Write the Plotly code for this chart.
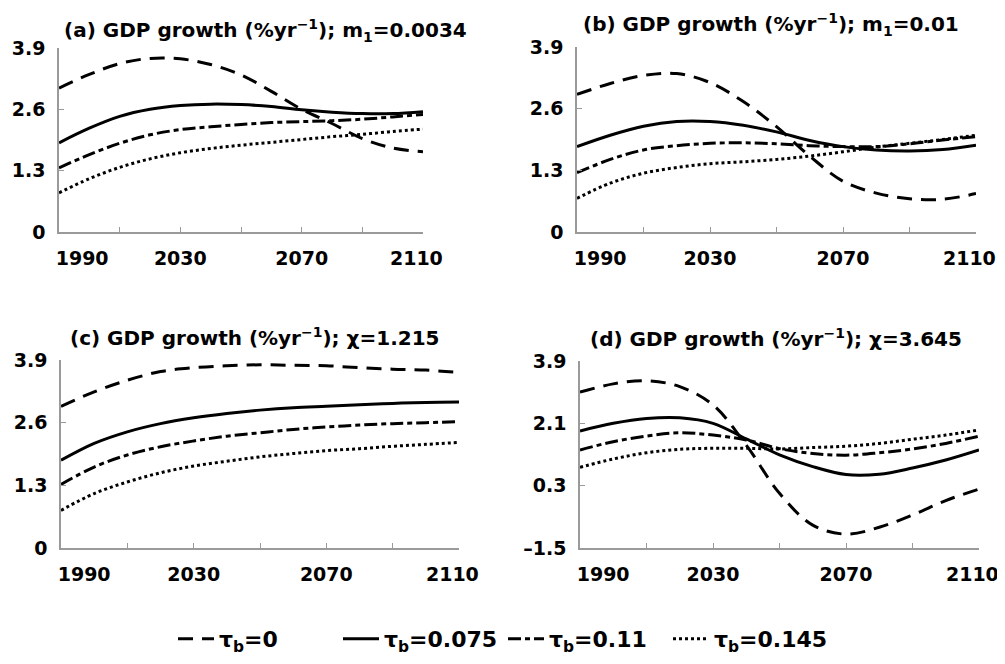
import plotly.graph_objects as go

years = [1990, 2000, 2010, 2020, 2030, 2040, 2050, 2060, 2070, 2080, 2090, 2100, 2110]

series_names = ["τ<sub>b</sub>=0", "τ<sub>b</sub>=0.075", "τ<sub>b</sub>=0.11", "τ<sub>b</sub>=0.145"]

# Panel (a): m1 = 0.0034
a_tau0 = [3.05, 3.34, 3.57, 3.68, 3.67, 3.55, 3.33, 2.98, 2.60, 2.30, 1.98, 1.78, 1.70]
a_tau075 = [1.89, 2.20, 2.45, 2.60, 2.68, 2.71, 2.70, 2.66, 2.59, 2.54, 2.51, 2.51, 2.55]
a_tau11 = [1.36, 1.64, 1.88, 2.06, 2.17, 2.23, 2.28, 2.32, 2.34, 2.36, 2.39, 2.44, 2.49]
a_tau145 = [0.83, 1.13, 1.37, 1.55, 1.68, 1.77, 1.84, 1.90, 1.96, 2.02, 2.07, 2.13, 2.18]

# Panel (b): m1 = 0.01
b_tau0 = [2.90, 3.13, 3.30, 3.34, 3.15, 2.75, 2.22, 1.60, 1.07, 0.82, 0.70, 0.69, 0.81]
b_tau075 = [1.80, 2.04, 2.23, 2.33, 2.33, 2.25, 2.11, 1.93, 1.80, 1.73, 1.71, 1.74, 1.83]
b_tau11 = [1.25, 1.53, 1.73, 1.82, 1.87, 1.88, 1.86, 1.82, 1.80, 1.80, 1.86, 1.94, 2.01]
b_tau145 = [0.71, 1.03, 1.24, 1.36, 1.44, 1.48, 1.53, 1.60, 1.69, 1.79, 1.87, 1.95, 2.04]

# Panel (c): chi = 1.215
c_tau0 = [2.94, 3.24, 3.48, 3.66, 3.74, 3.78, 3.80, 3.79, 3.78, 3.74, 3.71, 3.69, 3.64]
c_tau075 = [1.82, 2.17, 2.41, 2.58, 2.70, 2.79, 2.86, 2.91, 2.94, 2.97, 3.00, 3.02, 3.03]
c_tau11 = [1.32, 1.68, 1.93, 2.10, 2.22, 2.32, 2.39, 2.46, 2.51, 2.55, 2.58, 2.60, 2.62]
c_tau145 = [0.78, 1.13, 1.37, 1.56, 1.70, 1.80, 1.89, 1.96, 2.02, 2.06, 2.11, 2.15, 2.19]

# Panel (d): chi = 3.645
d_tau0 = [3.00, 3.24, 3.33, 3.16, 2.63, 1.47, 0.08, -0.84, -1.10, -0.90, -0.55, -0.13, 0.20]
d_tau075 = [1.88, 2.10, 2.24, 2.26, 2.10, 1.65, 1.19, 0.85, 0.62, 0.63, 0.81, 1.04, 1.33]
d_tau11 = [1.33, 1.57, 1.73, 1.83, 1.76, 1.62, 1.37, 1.23, 1.18, 1.25, 1.36, 1.52, 1.73]
d_tau145 = [0.83, 1.07, 1.25, 1.35, 1.38, 1.38, 1.36, 1.40, 1.44, 1.52, 1.64, 1.76, 1.91]

titles = [
    "(a) GDP growth (%yr<sup>−1</sup>); m<sub>1</sub>=0.0034",
    "(b) GDP growth (%yr<sup>−1</sup>); m<sub>1</sub>=0.01",
    "(c) GDP growth (%yr<sup>−1</sup>); χ=1.215",
    "(d) GDP growth (%yr<sup>−1</sup>); χ=3.645",
]

x_tickvals = [1990, 2030, 2070, 2110]
x_ticktext = ["\u00a0" * 7 + "1990", "2030", "2070", "2110" + "\u00a0" * 2]
x_minor_ticks = [2010, 2050, 2090]

y_ticks_abc = [0, 1.3, 2.6, 3.9]
y_ticktext_abc = ["0", "1.3", "2.6", "3.9"]
y_ticks_d = [-1.5, 0.3, 2.1, 3.9]
y_ticktext_d = ["–1.5", "0.3", "2.1", "3.9"]

# page body has an 8px margin; size the figure so it fits inside the window
OFF = 8
W, H = 1005 - 2 * OFF, 664 - 2 * OFF
FONT = "DejaVu Sans"


def fx(X):
    return (X - OFF) / W


def fy(Y):
    return 1 - (Y - OFF) / H


panels = [
    dict(data=[a_tau0, a_tau075, a_tau11, a_tau145], px=(59, 423), py=(48, 232),
         yr=[0, 3.9], yt=y_ticks_abc, ytt=y_ticktext_abc, title_pos=(265, 30)),
    dict(data=[b_tau0, b_tau075, b_tau11, b_tau145], px=(577, 976), py=(47, 232),
         yr=[0, 3.9], yt=y_ticks_abc, ytt=y_ticktext_abc, title_pos=(771, 24)),
    dict(data=[c_tau0, c_tau075, c_tau11, c_tau145], px=(61, 459), py=(360, 548),
         yr=[0, 3.9], yt=y_ticks_abc, ytt=y_ticktext_abc, title_pos=(255, 337)),
    dict(data=[d_tau0, d_tau075, d_tau11, d_tau145], px=(580, 979), py=(361, 548),
         yr=[-1.5, 3.9], yt=y_ticks_d, ytt=y_ticktext_d, title_pos=(776, 338)),
]

dashes = ["15px,9px", "solid", "13px,4px,5px,4px", "3px,3px"]

fig = go.Figure()
layout = dict(
    width=W, height=H,
    margin=dict(l=0, r=0, t=0, b=0, autoexpand=False),
    paper_bgcolor="white", plot_bgcolor="white",
    font=dict(family=FONT, size=19, color="black"),
    showlegend=True,
    legend=dict(orientation="h", x=fx(503), xanchor="center", y=fy(639), yanchor="middle",
                font=dict(family=FONT, size=22, color="black", weight="bold"),
                itemwidth=36, tracegroupgap=0, entrywidth=114, entrywidthmode="pixels"),
    annotations=[],
)

for i, p in enumerate(panels):
    xa = "x" if i == 0 else f"x{i+1}"
    ya = "y" if i == 0 else f"y{i+1}"
    for j, vals in enumerate(p["data"]):
        fig.add_trace(go.Scatter(
            x=years, y=vals, mode="lines", name=series_names[j],
            line=dict(color="black", width=3, dash=dashes[j], shape="spline", smoothing=1.0),
            xaxis=xa, yaxis=ya, showlegend=(i == 0), hoverinfo="skip",
        ))
    xkey = "xaxis" if i == 0 else f"xaxis{i+1}"
    ykey = "yaxis" if i == 0 else f"yaxis{i+1}"
    layout[xkey] = dict(
        domain=[fx(p["px"][0]), fx(p["px"][1])], anchor=ya, automargin=False,
        range=[1990, 2110], tickmode="array", tickvals=x_tickvals, ticktext=x_ticktext,
        minor=dict(tickmode="array", tickvals=x_minor_ticks, ticks="inside", ticklen=5,
                   tickcolor="#9a9a9a", tickwidth=1.2, showgrid=False),
        showline=True, linecolor="#9a9a9a", linewidth=1.5,
        ticks="inside", ticklen=5, tickcolor="#9a9a9a", tickwidth=1.2,
        showgrid=False, zeroline=False, ticklabelstandoff=8, ticklabeloverflow="allow",
        tickfont=dict(family=FONT, size=19, color="black", weight="bold"),
    )
    layout[ykey] = dict(
        domain=[fy(p["py"][1]), fy(p["py"][0])], anchor=xa, automargin=False,
        range=p["yr"], tickmode="array", tickvals=p["yt"], ticktext=p["ytt"],
        showline=True, linecolor="#9a9a9a", linewidth=1.5,
        ticks="inside", ticklen=5, tickcolor="#9a9a9a", tickwidth=1.2,
        showgrid=False, zeroline=False, ticklabelstandoff=8, ticklabeloverflow="allow",
        tickfont=dict(family=FONT, size=19, color="black", weight="bold"),
    )
    tx, ty = p["title_pos"]
    layout["annotations"].append(dict(
        text=titles[i], x=fx(tx), y=fy(ty), xref="paper", yref="paper",
        xanchor="center", yanchor="middle", showarrow=False,
        font=dict(family=FONT, size=20, color="black", weight="bold"),
    ))

fig.update_layout(**layout)
fig.write_html("out.html")
